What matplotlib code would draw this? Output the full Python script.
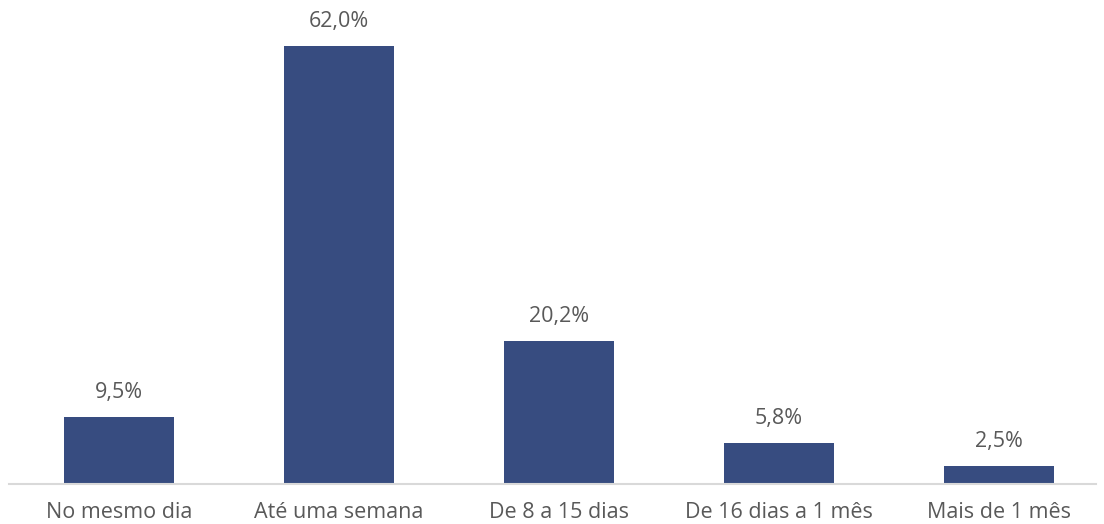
import matplotlib
matplotlib.use("Agg")
import matplotlib.pyplot as plt

categories = ["No mesmo dia", "Até uma semana", "De 8 a 15 dias", "De 16 dias a 1 mês", "Mais de 1 mês"]
values = [9.5, 62.0, 20.2, 5.8, 2.5]
labels = ["9,5%", "62,0%", "20,2%", "5,8%", "2,5%"]

plt.rcParams['font.family'] = ['Open Sans', 'DejaVu Sans']

fig = plt.figure(figsize=(11.04, 5.24), dpi=100)
ax = fig.add_axes([9/1104, 40/524, 1087/1104, 474/524])
x = list(range(len(categories)))
bars = ax.bar(x, values, width=0.5, color="#374C80")
ax.set_xlim(-0.5, 4.44)
ax.set_ylim(0, 62 * 474 / 438)
for xi, v, lab in zip(x, values, labels):
    ax.annotate(lab, (xi, v), xytext=(0, 14), textcoords="offset pixels",
                ha="center", va="bottom", fontsize=15.5, color="#595959")
ax.set_xticks(x)
ax.set_xticklabels(categories, fontsize=15.5, color="#595959")
ax.tick_params(axis="x", length=0, pad=13)
ax.set_yticks([])
for s in ["top", "right", "left"]:
    ax.spines[s].set_visible(False)
ax.spines["bottom"].set_color("#D9D9D9")
ax.spines["bottom"].set_linewidth(1.5)
fig.savefig("out.png", dpi=100)
